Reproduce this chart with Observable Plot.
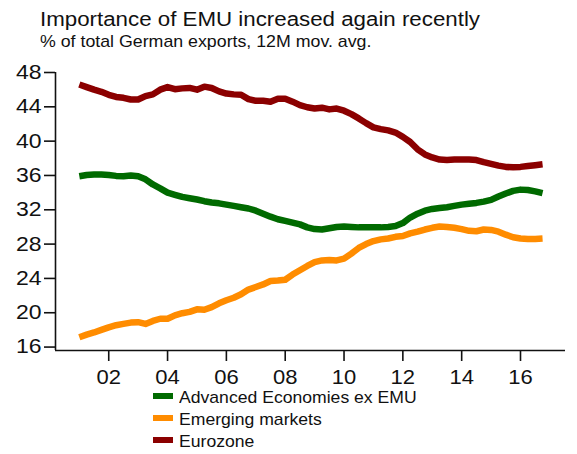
<!DOCTYPE html>
<html>
<head>
<meta charset="utf-8">
<script src="https://cdn.jsdelivr.net/npm/d3@7"></script>
<script src="https://cdn.jsdelivr.net/npm/@observablehq/plot@0.6"></script>
<style>
  html, body { margin: 0; padding: 0; background: #fff; }
  #wrap { position: relative; width: 577px; height: 454px; font-family: "Liberation Sans", Arial, sans-serif; color: #111; }
  .title { position: absolute; left: 40px; top: 9px; font-size: 20px; line-height: 20px; white-space: nowrap; transform: scaleX(1.115); transform-origin: 0 0; }
  .subtitle { position: absolute; left: 40px; top: 32.5px; font-size: 17px; line-height: 17px; white-space: nowrap; transform: scaleX(1.045); transform-origin: 0 0; }
  .leg { position: absolute; left: 153px; font-size: 17px; line-height: 17px; white-space: nowrap; }
  .leg span.sw { display: inline-block; width: 20px; height: 6px; vertical-align: 0.22em; margin-right: 6px; }
  .leg span.tx { display: inline-block; transform: scaleX(1.035); transform-origin: 0 0; }
  #chart { position: absolute; left: 0; top: 0; }
</style>
</head>
<body>
<div id="wrap">
  <div id="chart"></div>
  <div class="title">Importance of EMU increased again recently</div>
  <div class="subtitle">% of total German exports, 12M mov. avg.</div>
  <div id="legend"></div>
</div>
<script>
// Quarterly sample points (fractional years)
const dates = d3.range(64).map(i => 2001 + i * 0.25);

const seriesNames = ["Advanced Economies ex EMU", "Emerging markets", "Eurozone"];
const seriesColors = ["#006a00", "#ff8c00", "#8b0000"];

const advanced = [
  35.9, 36.05, 36.1, 36.1, 36.05, 35.95, 35.9, 36.0,
  35.9, 35.55, 34.95, 34.5, 34.0, 33.75, 33.5, 33.35,
  33.2, 33.0, 32.85, 32.75, 32.6, 32.45, 32.3, 32.15,
  31.9, 31.55, 31.2, 30.9, 30.7, 30.5, 30.3, 29.95,
  29.75, 29.7, 29.85, 30.0, 30.05, 30.0, 29.95, 29.95,
  29.95, 29.95, 30.0, 30.1, 30.45, 31.1, 31.55, 31.9,
  32.1, 32.2, 32.3, 32.45, 32.6, 32.7, 32.8, 32.95,
  33.15, 33.55, 33.9, 34.2, 34.35, 34.3, 34.15, 33.95
];

const emerging = [
  17.15, 17.45, 17.7, 18.0, 18.3, 18.55, 18.7, 18.85,
  18.9, 18.7, 19.05, 19.3, 19.3, 19.7, 19.95, 20.1,
  20.4, 20.35, 20.65, 21.1, 21.45, 21.75, 22.15, 22.7,
  23.0, 23.3, 23.7, 23.75, 23.85, 24.45, 24.95, 25.45,
  25.9, 26.1, 26.15, 26.1, 26.3, 26.9, 27.55, 28.0,
  28.35, 28.55, 28.65, 28.85, 28.95, 29.25, 29.45, 29.7,
  29.9, 30.05, 30.0, 29.9, 29.75, 29.55, 29.5, 29.7,
  29.65, 29.45, 29.1, 28.8, 28.65, 28.6, 28.6, 28.65
];

const eurozone = [
  46.6, 46.3, 46.0, 45.75, 45.4, 45.15, 45.05, 44.85,
  44.85, 45.25, 45.45, 46.0, 46.3, 46.05, 46.15, 46.2,
  46.0, 46.35, 46.2, 45.8, 45.55, 45.45, 45.4, 44.9,
  44.7, 44.7, 44.6, 44.95, 44.95, 44.6, 44.2, 43.95,
  43.8, 43.9, 43.7, 43.8, 43.55, 43.15, 42.65, 42.1,
  41.6, 41.4, 41.25, 41.0, 40.5, 39.9, 39.05, 38.45,
  38.1, 37.85, 37.8, 37.85, 37.85, 37.85, 37.8, 37.55,
  37.35, 37.15, 37.0, 36.95, 37.0, 37.1, 37.2, 37.3
];

const yTicks = [16, 20, 24, 28, 32, 36, 40, 44, 48];
const xTicks = [2002, 2004, 2006, 2008, 2010, 2012, 2014, 2016];
const xTickLabels = ["02", "04", "06", "08", "10", "12", "14", "16"];

const seriesValues = [advanced, emerging, eurozone];
const table = [];
// draw order: Eurozone, Advanced, Emerging
[2, 0, 1].forEach(s => {
  dates.forEach((d, i) => table.push({date: d, value: seriesValues[s][i], series: seriesNames[s]}));
});

const xMin = 2000.19, xMax = 2017.53, yMin = 15.6, yMax = 48;
const font = "Liberation Sans, Arial, sans-serif";

const chart = Plot.plot({
  width: 577,
  height: 454,
  marginTop: 72,
  marginBottom: 104,
  marginLeft: 55,
  marginRight: 12,
  style: {fontFamily: font, color: "#111", background: "transparent"},
  x: {domain: [xMin, xMax], axis: null},
  y: {domain: [yMin, yMax], axis: null},
  color: {domain: seriesNames, range: seriesColors},
  marks: [
    Plot.line(table, {x: "date", y: "value", z: "series", stroke: "series", strokeWidth: 6.5, strokeLinejoin: "round", strokeLinecap: "butt"}),
    Plot.ruleX([xMin], {y1: yMin, y2: yMax, stroke: "#111", strokeWidth: 1.6}),
    Plot.ruleY([yMin], {x1: xMin, x2: xMax, stroke: "#111", strokeWidth: 1.6}),
    Plot.axisY({ticks: yTicks, tickSize: 11, tickPadding: 3, fontSize: 20, strokeWidth: 1.6, stroke: "#111", fill: "#111", label: null}),
    Plot.axisX({ticks: xTicks, tickFormat: d => xTickLabels[xTicks.indexOf(d)], tickSize: 11, tickPadding: 8, fontSize: 20, strokeWidth: 1.6, stroke: "#111", fill: "#111", label: null})
  ]
});
document.getElementById("chart").appendChild(chart);

// Widen tick label glyphs horizontally (reference text is slightly stretched)
function widen(selector, s) {
  chart.querySelectorAll(selector).forEach(t => {
    const tr = t.getAttribute("transform");
    if (tr && tr.includes("translate")) {
      t.setAttribute("transform", tr + ` scale(${s},1)`);
    } else {
      const x = +(t.getAttribute("x") || 0), y = +(t.getAttribute("y") || 0);
      t.removeAttribute("x"); t.removeAttribute("y");
      t.setAttribute("transform", `translate(${x},${y}) scale(${s},1)` + (tr ? " " + tr : ""));
    }
  });
}
widen('g[aria-label="y-axis tick label"] text', 1.15);
widen('g[aria-label="x-axis tick label"] text', 1.1);

// Legend
const legTops = [388.5, 410.5, 432.5];
const legend = document.getElementById("legend");
seriesNames.forEach((name, i) => {
  const div = document.createElement("div");
  div.className = "leg";
  div.style.top = legTops[i] + "px";
  div.innerHTML = `<span class="sw" style="background:${seriesColors[i]}"></span><span class="tx">${name}</span>`;
  legend.appendChild(div);
});
</script>
</body>
</html>
